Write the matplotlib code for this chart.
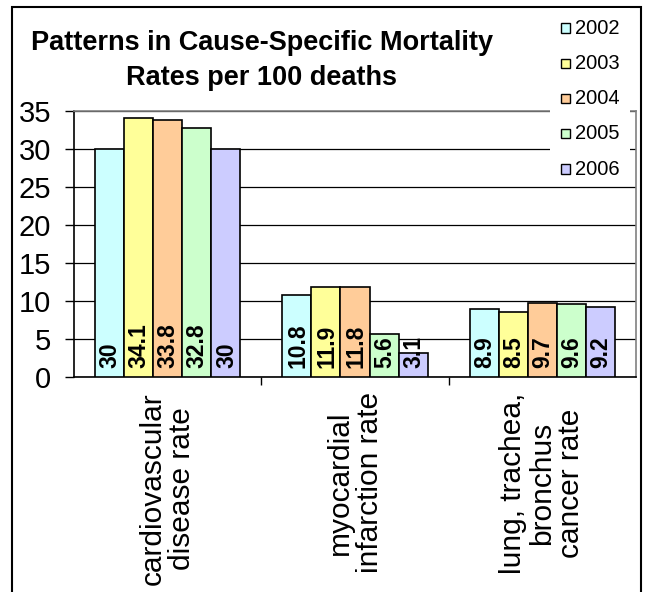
import numpy as np
import matplotlib
matplotlib.use('Agg')
import matplotlib.pyplot as plt
from matplotlib.patches import Rectangle

plt.rcParams['font.family'] = ['Liberation Sans', 'DejaVu Sans']

categories = ['cardiovascular\ndisease rate',
              'myocardial\ninfarction rate',
              'lung, trachea,\nbronchus\ncancer rate']
years = ['2002', '2003', '2004', '2005', '2006']
values = {
    '2002': [30, 10.8, 8.9],
    '2003': [34.1, 11.9, 8.5],
    '2004': [33.8, 11.8, 9.7],
    '2005': [32.8, 5.6, 9.6],
    '2006': [30, 3.1, 9.2],
}
colors = ['#CCFFFF', '#FFFF99', '#FFCC99', '#CCFFCC', '#CCCCFF']

W, H = 645, 592
fig = plt.figure(figsize=(W / 100, H / 100), dpi=100)
ax = fig.add_axes([74 / W, 1 - 377 / H, (636 - 74) / W, (377 - 111) / H])

x = np.arange(len(categories))
bw = 0.155
for i, (yr, col) in enumerate(zip(years, colors)):
    pos = x + (i - 2) * bw
    ax.bar(pos, values[yr], width=bw, color=col, edgecolor='black',
           linewidth=1.2, zorder=3, label=yr)
    for xb, v in zip(pos, values[yr]):
        ax.annotate(f'{v:g}', (xb, 0), xytext=(0.5, 6.5), textcoords='offset points',
                    rotation=90, ha='center', va='bottom', fontsize=16.5,
                    fontweight='bold', zorder=4)

ax.set_xlim(-0.5, 2.5)
ax.set_ylim(0, 35)
ax.set_yticks(range(0, 36, 5))
ax.yaxis.grid(True, color='black', linewidth=0.9, zorder=0)
ax.tick_params(axis='y', length=6.5, width=1, labelsize=21, pad=10)

ax.set_xticks(x)
ax.set_xticklabels(categories, rotation=90, fontsize=21.5, linespacing=1.05,
                   multialignment='center', va='top', ha='center')
ax.set_xticks([0.5, 1.5], minor=True)
ax.tick_params(axis='x', which='major', length=0, pad=11)
ax.tick_params(axis='x', which='minor', length=6, width=1)

for s in ['top', 'right']:
    ax.spines[s].set_color('#808080')
    ax.spines[s].set_linewidth(1.2)
for s in ['left', 'bottom']:
    ax.spines[s].set_linewidth(1.2)

# legend drawn by hand: white box, small squares, year labels
fig.patches.append(Rectangle((550 / W, 1 - 182 / H), 80 / W, 174 / H,
                             transform=fig.transFigure, facecolor='white',
                             edgecolor='none', zorder=5))
for i, (yr, col) in enumerate(zip(years, colors)):
    yc = 28 + i * 35.25
    fig.patches.append(Rectangle((561 / W, 1 - (yc + 4.5) / H), 9 / W, 9 / H,
                                 transform=fig.transFigure, facecolor=col,
                                 edgecolor='black', linewidth=1, zorder=6))
    fig.text(575 / W, 1 - yc / H, yr, ha='left', va='center',
             fontsize=14.5, zorder=6)

fig.text(262 / W, 1 - 50 / H, 'Patterns in Cause-Specific Mortality',
         ha='center', va='baseline', fontsize=19.5, fontweight='bold')
fig.text(262 / W, 1 - 85 / H, 'Rates per 100 deaths',
         ha='center', va='baseline', fontsize=19.5, fontweight='bold')

fig.patches.append(Rectangle((12 / W, -0.05), (641 - 12) / W, 1.05 - 7 / H,
                             transform=fig.transFigure, fill=False,
                             edgecolor='black', linewidth=1.5))

fig.savefig('out.png', dpi=100, facecolor='white')
